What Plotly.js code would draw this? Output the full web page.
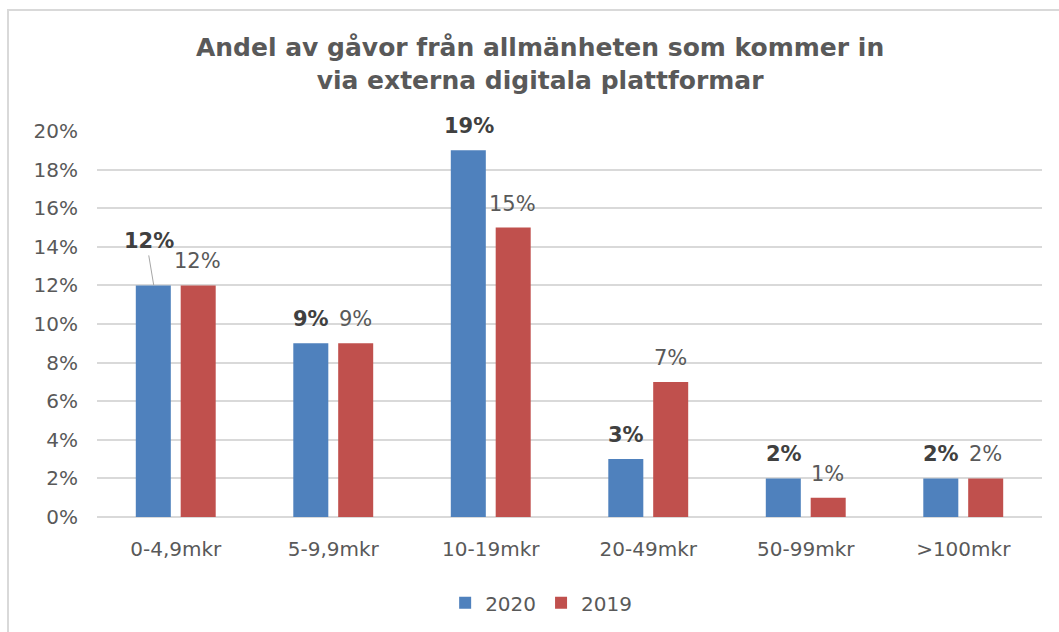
<!DOCTYPE html>
<html>
<head>
<meta charset="utf-8">
<script src="https://cdn.plot.ly/plotly-3.0.1.min.js"></script>
<style>
html,body{margin:0;padding:0;background:#fff;}
#frame{position:absolute;left:7px;top:9px;width:1060px;height:640px;border:2px solid #d9d9d9;box-sizing:border-box;pointer-events:none;z-index:5;}
#chart{position:absolute;left:0;top:0;width:1059px;height:632px;}
</style>
</head>
<body>
<div id="chart"></div>
<div id="frame"></div>
<script>
const categories = ["0-4,9mkr", "5-9,9mkr", "10-19mkr", "20-49mkr", "50-99mkr", ">100mkr"];
const values2020 = [12, 9, 19, 3, 2, 2];
const values2019 = [12, 9, 15, 7, 1, 2];
const seriesNames = ["2020", "2019"];
const yTicks = [0, 2, 4, 6, 8, 10, 12, 14, 16, 18, 20];
const yTickLabels = yTicks.map(v => v + "%");

const FONT = "DejaVu Sans, Verdana, sans-serif";
const blue = "#4f81bd", red = "#c0504d";

const traces = [
  {type: "bar", name: seriesNames[0], x: categories, y: values2020,
   marker: {color: blue}, hoverinfo: "skip"},
  {type: "bar", name: seriesNames[1], x: categories, y: values2019,
   marker: {color: red}, hoverinfo: "skip"}
];

const annotations = [];
categories.forEach((c, i) => {
  const special = (i === 0);
  annotations.push({
    x: c, y: values2020[i], xref: "x", yref: "y",
    text: "<b>" + values2020[i] + "%</b>",
    showarrow: special, arrowhead: 0, arrowwidth: 1, arrowcolor: "#a6a6a6",
    ax: special ? -5 : 0, ay: special ? -30 : 0,
    xshift: -22, yshift: special ? 0 : 24,
    yanchor: special ? "bottom" : "middle",
    standoff: 0, startstandoff: 0,
    font: {family: FONT, size: 21, color: "#404040"}
  });
  annotations.push({
    x: c, y: values2019[i], xref: "x", yref: "y",
    text: values2019[i] + "%", showarrow: false,
    xshift: 22, yshift: 24, yanchor: "middle",
    font: {family: FONT, size: 21, color: "#595959"}
  });
});

const layout = {
  width: 1059, height: 632,
  margin: {l: 97, r: 17, t: 131, b: 115, autoexpand: false},
  paper_bgcolor: "#ffffff", plot_bgcolor: "#ffffff",
  title: {
    text: "<b>Andel av gåvor från allmänheten som kommer in<br>via externa digitala plattformar</b>",
    font: {family: FONT, size: 25, color: "#595959"},
    x: 0.51, xanchor: "center", y: 0.911, yanchor: "middle"
  },
  barmode: "group", bargap: 0.43, bargroupgap: 0.22,
  xaxis: {
    tickfont: {family: FONT, size: 20, color: "#595959"},
    showline: false, ticks: "", showgrid: false, fixedrange: true,
    ticklabelstandoff: 18, automargin: false
  },
  yaxis: {
    range: [0, 20], tickvals: yTicks, ticktext: yTickLabels,
    tickfont: {family: FONT, size: 20, color: "#595959"},
    gridcolor: "#d9d9d9", gridwidth: 2, zeroline: true, zerolinecolor: "#d9d9d9", zerolinewidth: 2,
    showline: false, ticks: "", ticklen: 0, fixedrange: true,
    ticklabelstandoff: 18, automargin: false
  },
  showlegend: true,
  legend: {
    orientation: "h", x: 0.47, xanchor: "center", y: -0.222, yanchor: "middle",
    font: {family: FONT, size: 20, color: "#595959"},
    itemwidth: 30, traceorder: "normal"
  },
  annotations: annotations
};

Plotly.newPlot("chart", traces, layout, {displayModeBar: false, staticPlot: true});
</script>
</body>
</html>
